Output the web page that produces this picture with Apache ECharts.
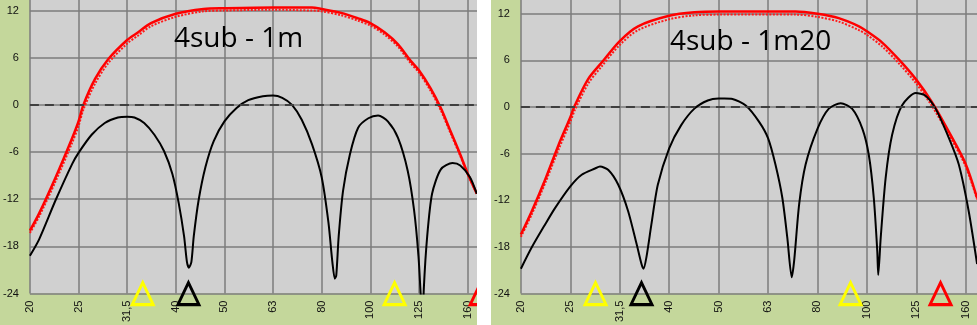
<!DOCTYPE html>
<html>
<head>
<meta charset="utf-8">
<script src="https://cdn.jsdelivr.net/npm/echarts@6/dist/echarts.min.js"></script>
<style>
html,body{margin:0;padding:0;background:#ffffff;width:977px;height:325px;overflow:hidden;}
#left{position:absolute;left:0;top:0;width:477px;height:325px;}
#right{position:absolute;left:491px;top:0;width:486px;height:325px;}
</style>
</head>
<body>
<div id="left"></div>
<div id="right"></div>
<script>
// 1/3-octave band labels (x positions are band indices: 0 = 20 Hz, 1 = 25 Hz, ...)
const xLabels = ['20','25','31,5','40','50','63','80','100','125','160'];
const yTicks = [-24,-18,-12,-6,0,6,12];
const refLevel = 0;

// ---- Left panel: "4sub - 1m" ----
const leftTitle = '4sub - 1m';
const leftRedSolid = [[0,-16.0],[0.19,-13.8],[0.53,-9.2],[0.87,-4.2],[1.0,-2.1],[1.1,0],[1.34,3.3],[1.61,5.8],[2.0,8.25],[2.22,9.2],[2.49,10.4],[3.0,11.6],[3.57,12.2],[4.0,12.3],[5.0,12.4],[5.8,12.4],[6.0,12.2],[6.4,11.7],[6.75,11.0],[7.0,10.4],[7.3,9.2],[7.57,7.7],[7.83,5.6],[8.0,4.4],[8.24,2.1],[8.45,-0.4],[8.65,-3.35],[8.85,-6.3],[9.0,-8.7],[9.19,-11.3]];
const leftRedDotted = [[0,-16.3],[0.19,-14.2],[0.53,-9.7],[0.87,-4.8],[1.0,-2.7],[1.1,-0.6],[1.34,2.7],[1.61,5.3],[2.0,7.8],[2.22,8.8],[2.49,10.0],[3.0,11.2],[3.57,11.9],[4.0,12.0],[5.0,12.1],[5.8,12.0],[6.0,11.9],[6.4,11.4],[6.75,10.7],[7.0,10.1],[7.3,8.9],[7.57,7.4],[7.83,5.3],[8.0,4.1],[8.24,1.8],[8.45,-0.7],[8.65,-3.6],[8.85,-6.5],[9.0,-8.8],[9.19,-11.3]];
const leftBlack = [[0,-19.2],[0.19,-17.1],[0.53,-12.1],[0.87,-7.5],[1.0,-6.1],[1.27,-3.8],[1.54,-2.3],[1.81,-1.6],[2.0,-1.5],[2.15,-1.6],[2.35,-2.3],[2.56,-3.8],[2.76,-5.9],[2.93,-8.8],[3.06,-12.5],[3.17,-16.7],[3.23,-20.0],[3.27,-20.7],[3.32,-20.0],[3.37,-16.7],[3.47,-12.1],[3.61,-7.9],[3.78,-4.6],[4.0,-2.1],[4.25,-0.4],[4.49,0.6],[4.79,1.1],[5.0,1.2],[5.19,0.9],[5.39,0.0],[5.59,-1.9],[5.8,-5.0],[6.0,-9.2],[6.14,-15.0],[6.22,-20.0],[6.27,-22.1],[6.3,-21.7],[6.35,-16.7],[6.44,-10.9],[6.58,-6.3],[6.75,-2.9],[6.96,-1.7],[7.16,-1.35],[7.36,-2.1],[7.57,-4.2],[7.77,-8.4],[7.9,-13.4],[7.99,-19.2],[8.04,-24.5],[8.08,-28],[8.1,-23.4],[8.17,-16.7],[8.27,-11.3],[8.45,-8.2],[8.69,-7.4],[8.85,-7.7],[9.05,-9.2],[9.19,-11.3]];
const leftYellowMarks = [2.32, 7.50];
const leftBlackMarks = [3.26];
const leftRedMarks = [9.27];

// ---- Right panel: "4sub - 1m20" ----
const rightTitle = '4sub - 1m20';
const rightRedSolid = [[0,-16.4],[0.22,-13.4],[0.49,-9.35],[0.76,-4.9],[1.0,-1.3],[1.09,0.2],[1.36,3.6],[1.63,5.7],[2.0,8.5],[2.37,10.4],[3.0,11.75],[3.51,12.2],[4.0,12.3],[5.56,12.3],[6.0,12.0],[6.43,11.45],[6.84,10.4],[7.0,9.75],[7.31,8.3],[7.65,6.1],[7.99,3.6],[8.32,0.6],[8.66,-3.2],[8.99,-7.2],[9.23,-11.7]];
const rightRedDotted = [[0,-16.7],[0.22,-13.8],[0.49,-9.8],[0.76,-5.5],[1.0,-1.9],[1.09,-0.4],[1.36,3.0],[1.63,5.2],[2.0,8.0],[2.37,9.9],[3.0,11.3],[3.51,11.8],[4.0,11.9],[5.56,11.9],[6.0,11.6],[6.43,11.0],[6.84,9.9],[7.0,9.3],[7.31,7.8],[7.65,5.6],[7.99,3.1],[8.32,0.1],[8.66,-3.6],[8.99,-7.5],[9.23,-11.9]];
const rightBlack = [[0,-20.8],[0.22,-18.05],[0.49,-15.1],[0.69,-13.0],[1.0,-10.2],[1.23,-8.7],[1.5,-7.9],[1.6,-7.65],[1.77,-8.1],[1.97,-10.0],[2.17,-13.4],[2.34,-17.6],[2.44,-20.2],[2.48,-20.8],[2.54,-19.3],[2.64,-15.1],[2.77,-10.0],[3.0,-5.3],[3.24,-2.35],[3.51,-0.2],[3.78,0.85],[4.0,1.1],[4.12,1.1],[4.28,1.05],[4.55,0.2],[4.82,-1.9],[5.0,-4.0],[5.15,-7.4],[5.29,-11.7],[5.39,-16.8],[5.48,-21.9],[5.53,-19.7],[5.63,-12.5],[5.76,-7.4],[6.0,-2.8],[6.23,-0.2],[6.47,0.5],[6.7,-0.2],[6.91,-2.8],[7.04,-6.2],[7.14,-11.7],[7.21,-18.5],[7.23,-21.6],[7.28,-16.8],[7.38,-9.1],[7.51,-3.6],[7.71,0.2],[7.99,1.8],[8.18,1.5],[8.39,-0.2],[8.66,-4.0],[8.86,-7.4],[9.06,-13.4],[9.23,-20.2]];
const rightYellowMarks = [1.51, 6.67];
const rightBlackMarks = [2.44];
const rightRedMarks = [8.49];

const GREEN = '#c4d79b';
const PLOT = '#d0d0d0';
const GRIDC = '#7d7d7d';
const LABEL_FONT = 'Liberation Sans';

function markSeries(xs, color) {
  return {
    type: 'scatter',
    data: xs.map(x => [x, -24]),
    symbol: 'triangle',
    symbolSize: [21, 22],
    clip: false,
    silent: true,
    z: 10,
    itemStyle: { color: 'rgba(0,0,0,0)', borderColor: color, borderWidth: 3, opacity: 1 }
  };
}

function build(dom, cfg) {
  const chart = echarts.init(dom, null, { renderer: 'canvas' });
  chart.setOption({
    animation: false,
    backgroundColor: GREEN,
    grid: {
      left: cfg.gridLeft, right: 0, top: 0, bottom: cfg.gridBottom,
      show: true, backgroundColor: PLOT, borderWidth: 0
    },
    graphic: [{
      type: 'text', left: cfg.titleX, top: cfg.titleY, z: 20,
      style: { text: cfg.title, font: '28px "Open Sans"', fill: '#000000' }
    }],
    xAxis: {
      type: 'value', min: 0, max: cfg.xMax, interval: 1,
      axisLine: { show: false }, axisTick: { show: false },
      splitLine: { show: true, showMaxLine: false, lineStyle: { color: GRIDC, width: 1.5 } },
      axisLabel: {
        rotate: 90, margin: 7, fontSize: 11, fontFamily: LABEL_FONT, color: '#111',
        showMaxLabel: false,
        formatter: v => (Math.abs(v - Math.round(v)) < 1e-6 && xLabels[Math.round(v)]) ? xLabels[Math.round(v)] : ''
      }
    },
    yAxis: {
      type: 'value', min: -24, max: cfg.yMax, interval: 6,
      axisLine: { show: false }, axisTick: { show: false },
      splitLine: { show: true, showMaxLine: false, lineStyle: { color: GRIDC, width: 1.5 } },
      axisLabel: {
        margin: 11, fontSize: 11, fontFamily: LABEL_FONT, color: '#111',
        showMaxLabel: false,
        formatter: v => yTicks.indexOf(v) >= 0 ? String(v) : ''
      }
    },
    series: [
      {
        type: 'line', data: cfg.redDotted, showSymbol: false, smooth: 0.3, z: 2,
        lineStyle: { color: '#ff1a1a', width: 2, type: [2, 1.5] }
      },
      {
        type: 'line', data: cfg.redSolid, showSymbol: false, smooth: 0.3, z: 3,
        lineStyle: { color: '#ff0000', width: 2.5 }
      },
      {
        type: 'line', data: cfg.black, showSymbol: false, smooth: 0.25, z: 4,
        lineStyle: { color: '#000000', width: 2 },
        markLine: {
          silent: true, symbol: ['none', 'none'], label: { show: false },
          lineStyle: { color: '#3f3f3f', width: 2, type: [9, 6] },
          data: [{ yAxis: refLevel }]
        }
      },
      markSeries(cfg.yellow, '#ffff00'),
      markSeries(cfg.blackM, '#000000'),
      markSeries(cfg.redM, '#ff0000')
    ]
  });
}

build(document.getElementById('left'), {
  title: leftTitle, titleX: 174, titleY: 25,
  gridLeft: 24, gridBottom: 26.7, xMax: 9.194, yMax: 13.34,
  redSolid: leftRedSolid, redDotted: leftRedDotted, black: leftBlack,
  yellow: leftYellowMarks, blackM: leftBlackMarks, redM: leftRedMarks
});
build(document.getElementById('right'), {
  title: rightTitle, titleX: 179, titleY: 28,
  gridLeft: 28.3, gridBottom: 28, xMax: 9.228, yMax: 13.78,
  redSolid: rightRedSolid, redDotted: rightRedDotted, black: rightBlack,
  yellow: rightYellowMarks, blackM: rightBlackMarks, redM: rightRedMarks
});
</script>
</body>
</html>
